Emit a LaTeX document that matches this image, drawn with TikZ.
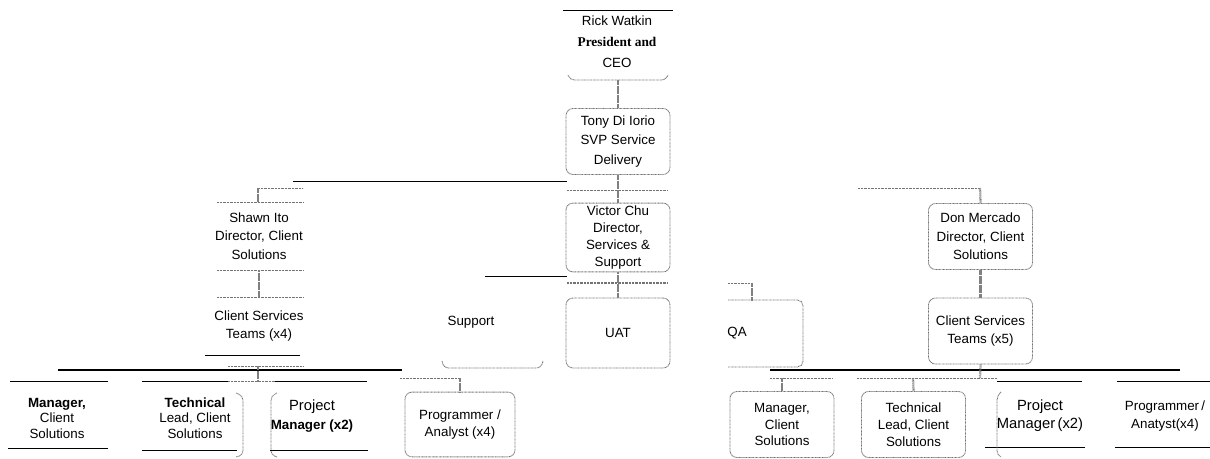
\documentclass[tikz,border=0pt]{standalone}
\usepackage{fontspec}
\setmainfont{Liberation Sans}
\newfontfamily\timesfont{Liberation Serif}
\usetikzlibrary{calc}

\begin{document}
\begin{tikzpicture}[x=0.025cm, y=-0.025cm,
  font=\fontsize{9.5}{12}\selectfont,
  unit/.style={draw=black!55, line width=0.6pt, dash pattern=on 0.6pt off 0.4pt,
    rounded corners=5pt, align=center, minimum width=2.6cm, minimum height=1.65cm, inner sep=1pt},
  plain/.style={align=center, inner sep=1pt},
  dots/.style={draw=black!55, line width=0.6pt, dash pattern=on 0.6pt off 0.4pt},
  link/.style={draw=black!50, line width=1.6pt, dash pattern=on 0.4pt off 0.4pt},
  rule/.style={draw=black, line width=0.7pt},
  bar/.style={draw=black, line width=1.8pt}]
  \useasboundingbox (0,0) rectangle (1210,459);

  % top of the chart
  \node[plain, font=\fontsize{9.5}{15}\selectfont] (rick) at (617,42)
    {Rick Watkin\\{\timesfont\bfseries President and}\\CEO};
  \draw[rule] (563,10) -- (673,10);
  \draw[dots, rounded corners=3pt] (568,75) -- (570,80) -- (666,80) -- (668,75);
  \coordinate (rickout) at (618,80);

  \node[unit, font=\fontsize{9.5}{14}\selectfont] (tony) at (618,141.5)
    {Tony Di Iorio\\SVP Service\\Delivery};
  \draw[link] (rickout) -- (tony.north);
  \draw[rule] (293,181) -- (567,181);
  \draw[dots] (567,190) -- (668,190);

  \node[unit, minimum height=1.72cm, font=\fontsize{9.5}{12}\selectfont] (victor) at (618,237.5)
    {Victor Chu\\Director,\\Services \&\\Support};
  \draw[link] (tony.south) -- (victor.north);
  \draw[rule] (485,276) -- (567,276);
  \draw[dots, line width=1.1pt] (567,283) -- (668,283);

  % services & support units
  \node[unit, minimum height=1.75cm] (uat) at (618,333) {UAT};
  \draw[link] (victor.south) -- (uat.north);

  \node[plain] (support) at (471,322) {Support};
  \draw[dots, rounded corners=3pt] (442,361) -- (444,368) -- (541,368) -- (543,361);

  \node[plain] (qa) at (737,333) {QA};
  \draw[dots, rounded corners=4pt] (728,300) -- (803,300) -- (803,367) -- (728,367);
  \draw[dots] (728,283) -- (752,283);
  \draw[link] (752,283) -- (752,300);

  % left branch
  \node[plain, minimum height=1.7cm, font=\fontsize{9.5}{13}\selectfont] (shawn) at (259,236)
    {Shawn Ito\\Director, Client\\Solutions};
  \draw[dots] (217,202) -- (303,202);
  \draw[dots] (258,188) -- (303,188);
  \draw[link] (258,188) -- (258,202);
  \draw[dots] (217,270) -- (303,270);

  \node[plain, minimum height=1.45cm, font=\fontsize{9.5}{12.5}\selectfont] (teamsL) at (259,326)
    {Client Services\\Teams (x4)};
  \draw[link] (shawn.south) -- (teamsL.north);
  \draw[dots] (217,297) -- (303,297);
  \draw[rule] (205,355) -- (300,355);
  \draw[bar] (58,370) -- (402,370);
  \draw[dots] (228,366) -- (303,366);
  \coordinate (teamsLout) at (258,381);
  \draw[link] (258,366) -- (teamsLout);
  \draw[dots] (228,381) -- (275,381);

  \node[plain, font=\fontsize{9.5}{11}\selectfont] (mgrL) at (57,418)
    {\textbf{Manager,}\\Client\\Solutions};
  \draw[rule] (10,381) -- (108,381);
  \draw[rule] (8,448) -- (108,448);

  \node[plain, font=\fontsize{9.5}{11}\selectfont] (techL) at (195,418)
    {\textbf{Technical}\\Lead, Client\\Solutions};
  \draw[rule] (142,381) -- (228,381);
  \draw[rule] (275,381) -- (367,381);
  \draw[rule] (142,450) -- (237,450);
  \draw[dots, rounded corners=3pt] (236,393) -- (243,396) -- (243,455) -- (236,457);

  \node[plain, font=\fontsize{10.5}{13}\selectfont] (pmL) at (312,416)
    {Project\\{\fontsize{9.5}{12}\selectfont\bfseries Manager (x2)}};
  \draw[dots, rounded corners=3pt] (277,393) -- (271,396) -- (271,455) -- (277,457);
  \draw[rule] (270,450) -- (368,450);

  \node[unit, minimum width=2.75cm, minimum height=1.62cm, font=\fontsize{9.5}{12.5}\selectfont] (progL) at (460,424.5)
    {Programmer /\\Analyst (x4)};
  \coordinate (progLin) at (460,378);
  \draw[dots] (400,378) -- (progLin);
  \draw[link] (progLin) -- (progL.north);

  % right branch
  \node[unit, font=\fontsize{9.5}{13}\selectfont] (don) at (980.5,236.5)
    {Don Mercado\\Director, Client\\Solutions};
  \coordinate (donin) at (980,188);
  \draw[dots] (858,188) -- (donin);
  \draw[link] (donin) -- (don.north);

  \node[unit, font=\fontsize{9.5}{12.5}\selectfont] (teamsR) at (980.5,331)
    {Client Services\\Teams (x5)};
  \draw[link] (don.south) -- (teamsR.north);
  \draw[bar] (770,370) -- (1180,370);
  \coordinate (teamsRout) at (980,378);
  \draw[link] (teamsR.south) -- (teamsRout);
  \draw[dots] (857,378) -- (997,378);
  \draw[dots] (770,378) -- (832,378);

  \node[unit, font=\fontsize{9.5}{12}\selectfont] (mgrR) at (782,424.5)
    {Manager,\\Client\\Solutions};
  \draw[link] (782,378) -- (mgrR.north);

  \node[unit, font=\fontsize{9.5}{12}\selectfont] (techR) at (913.5,424.5)
    {Technical\\Lead, Client\\Solutions};
  \draw[link] (913,378) -- (techR.north);

  \node[plain, font=\fontsize{10.5}{13}\selectfont] (pmR) at (1040,416)
    {Project\\Manager\,(x2)};
  \draw[rule] (997,381) -- (1082,381);
  \draw[rule] (985,447) -- (1085,447);
  \draw[dots, rounded corners=3pt] (1001,392) -- (997,396) -- (997,455) -- (1001,457);

  \node[plain, font=\fontsize{9.5}{13}\selectfont] (progR) at (1165,416)
    {Programmer\,/\\Anatyst(x4)};
  \draw[rule] (1117,381) -- (1210,381);
  \draw[rule] (1115,447) -- (1210,447);
\end{tikzpicture}
\end{document}
